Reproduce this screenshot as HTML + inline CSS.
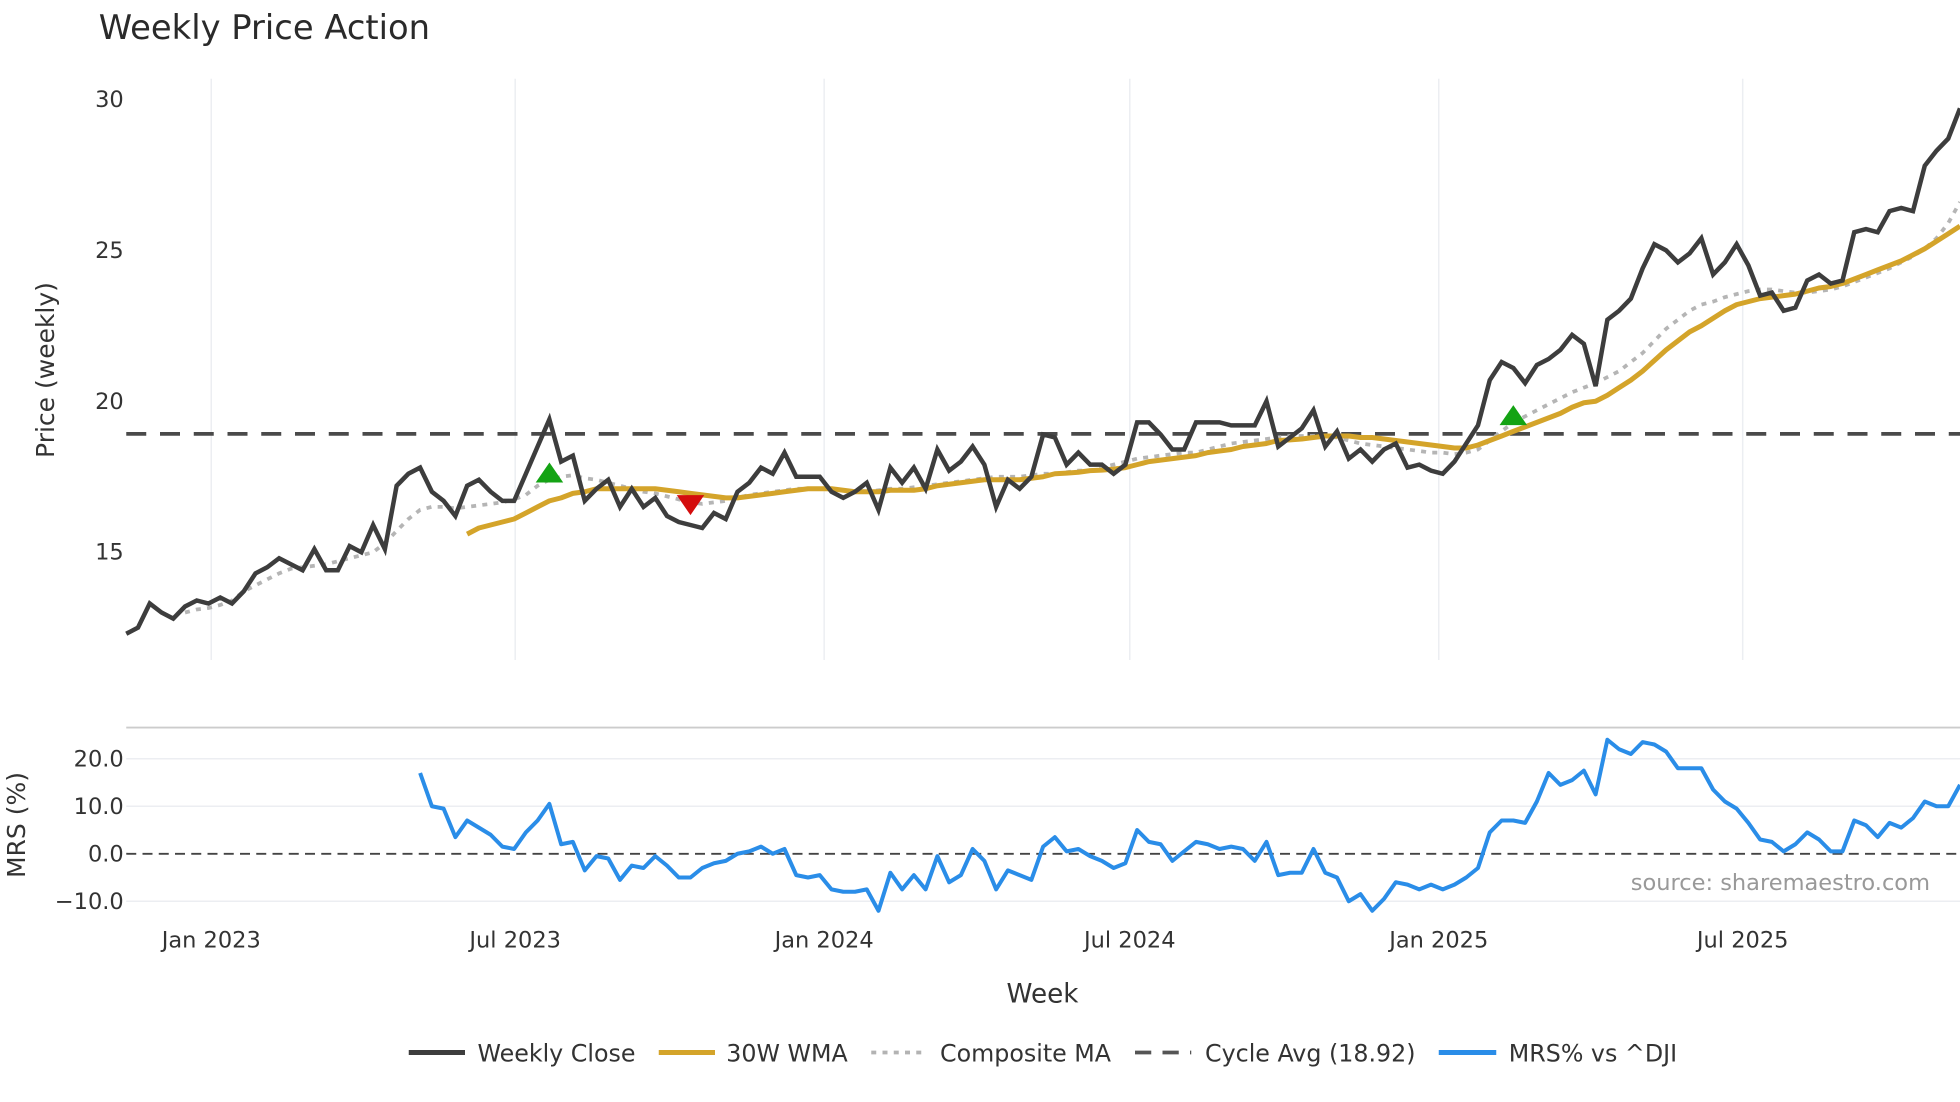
<!DOCTYPE html>
<html><head><meta charset="utf-8"><style>
html,body{margin:0;padding:0;background:#fff;}
svg{display:block;font-family:"DejaVu Sans","Liberation Sans",sans-serif;}
</style></head><body>
<svg id="chart" width="1960" height="1102" viewBox="0 0 1568 881.6" xmlns="http://www.w3.org/2000/svg">
<text x="79" y="31" font-size="27" fill="#2a2a2a">Weekly Price Action</text>
<g id="grid"></g><g id="series"></g><g id="axes"></g>
<text transform="translate(43,296) rotate(-90)" text-anchor="middle" font-size="20" fill="#333">Price (weekly)</text>
<text transform="translate(20,660) rotate(-90)" text-anchor="middle" font-size="20" fill="#333">MRS (%)</text>
<text x="834" y="802" text-anchor="middle" font-size="21" fill="#333">Week</text>
<text x="1544" y="712" text-anchor="end" font-size="18" fill="#999">source: sharemaestro.com</text>
<g font-size="19" fill="#333">
<g><line x1="327" y1="842" x2="372" y2="842" stroke="#3d3d3d" stroke-width="4"/><text x="382" y="849">Weekly Close</text></g>
<g><line x1="527" y1="842" x2="572" y2="842" stroke="#d4a42a" stroke-width="4"/><text x="581" y="849">30W WMA</text></g>
<g><line x1="697" y1="842" x2="742" y2="842" stroke="#b3b3b3" stroke-width="3" stroke-dasharray="4 5"/><text x="752" y="849">Composite MA</text></g>
<g><line x1="908" y1="842" x2="953" y2="842" stroke="#555" stroke-width="3" stroke-dasharray="13 9"/><text x="964" y="849">Cycle Avg (18.92)</text></g>
<g><line x1="1151" y1="842" x2="1197" y2="842" stroke="#2a8de8" stroke-width="4"/><text x="1207" y="849">MRS% vs ^DJI</text></g>
</g>
</svg>
<script>
const close = [12.3,12.5,13.3,13.0,12.8,13.2,13.4,13.3,13.5,13.3,13.7,14.3,14.5,14.8,14.6,14.4,15.1,14.4,14.4,15.2,15.0,15.9,15.1,17.2,17.6,17.8,17.0,16.7,16.2,17.2,17.4,17.0,16.7,16.7,17.6,18.5,19.4,18.0,18.2,16.7,17.1,17.4,16.5,17.1,16.5,16.8,16.2,16.0,15.9,15.8,16.3,16.1,17.0,17.3,17.8,17.6,18.3,17.5,17.5,17.5,17.0,16.8,17.0,17.3,16.4,17.8,17.3,17.8,17.1,18.4,17.7,18.0,18.5,17.9,16.5,17.4,17.1,17.5,18.9,18.8,17.9,18.3,17.9,17.9,17.6,17.9,19.3,19.3,18.9,18.4,18.4,19.3,19.3,19.3,19.2,19.2,19.2,20.0,18.5,18.8,19.1,19.7,18.5,19.0,18.1,18.4,18.0,18.4,18.6,17.8,17.9,17.7,17.6,18.0,18.6,19.2,20.7,21.3,21.1,20.6,21.2,21.4,21.7,22.2,21.9,20.5,22.7,23.0,23.4,24.4,25.2,25.0,24.6,24.9,25.4,24.2,24.6,25.2,24.5,23.5,23.6,23.0,23.1,24.0,24.2,23.9,24.0,25.6,25.7,25.6,26.3,26.4,26.3,27.8,28.3,28.7,29.7];
const wmaStart = 29;
const wma = [15.6,15.8,15.9,16.0,16.1,16.3,16.5,16.7,16.8,16.95,17.0,17.1,17.1,17.1,17.1,17.1,17.1,17.05,17.0,16.95,16.9,16.85,16.8,16.8,16.85,16.9,16.95,17.0,17.05,17.1,17.1,17.1,17.05,17.0,17.0,17.0,17.05,17.05,17.05,17.1,17.2,17.25,17.3,17.35,17.4,17.4,17.4,17.4,17.45,17.5,17.6,17.62,17.65,17.7,17.72,17.75,17.8,17.9,18.0,18.05,18.1,18.15,18.2,18.3,18.35,18.4,18.5,18.55,18.6,18.7,18.72,18.75,18.8,18.85,18.85,18.85,18.8,18.8,18.75,18.7,18.65,18.6,18.55,18.5,18.45,18.45,18.55,18.7,18.85,19.0,19.15,19.3,19.45,19.6,19.8,19.95,20.0,20.2,20.45,20.7,21.0,21.35,21.7,22.0,22.3,22.5,22.75,23.0,23.2,23.3,23.4,23.45,23.5,23.55,23.65,23.75,23.8,23.9,24.05,24.2,24.35,24.5,24.65,24.85,25.05,25.3,25.55,25.8];
const compStart = 5;
const comp = [13.0,13.1,13.15,13.25,13.4,13.7,13.9,14.1,14.3,14.45,14.5,14.55,14.6,14.7,14.8,14.9,15.0,15.3,15.7,16.1,16.4,16.5,16.5,16.45,16.5,16.55,16.6,16.65,16.75,16.9,17.2,17.4,17.5,17.55,17.45,17.4,17.3,17.2,17.1,17.0,16.95,16.85,16.75,16.65,16.6,16.65,16.7,16.8,16.9,16.95,17.0,17.05,17.1,17.1,17.1,17.1,17.05,17.0,17.0,17.05,17.1,17.1,17.15,17.2,17.25,17.3,17.35,17.4,17.45,17.5,17.5,17.5,17.55,17.6,17.6,17.65,17.7,17.7,17.8,17.9,18.0,18.1,18.15,18.2,18.25,18.3,18.3,18.4,18.5,18.6,18.65,18.7,18.75,18.8,18.85,18.85,18.85,18.85,18.8,18.7,18.6,18.55,18.5,18.45,18.4,18.35,18.3,18.3,18.25,18.3,18.4,18.7,19.0,19.3,19.5,19.7,19.9,20.1,20.3,20.45,20.6,20.8,21.0,21.3,21.6,22.0,22.4,22.7,23.0,23.2,23.3,23.45,23.55,23.65,23.7,23.7,23.65,23.6,23.6,23.65,23.7,23.8,23.95,24.1,24.25,24.4,24.6,24.8,25.05,25.4,25.9,26.6];
const mrsStart = 25;
const mrs = [17,10,9.5,3.5,7,5.5,4,1.5,1,4.5,7,10.5,2,2.5,-3.5,-0.5,-1,-5.5,-2.5,-3,-0.5,-2.5,-5,-5,-3,-2,-1.5,0,0.5,1.5,0,1,-4.5,-5,-4.5,-7.5,-8,-8,-7.5,-12,-4,-7.5,-4.5,-7.5,-0.5,-6,-4.5,1,-1.5,-7.5,-3.5,-4.5,-5.5,1.5,3.5,0.5,1,-0.5,-1.5,-3,-2,5,2.5,2,-1.5,0.5,2.5,2,1,1.5,1,-1.5,2.5,-4.5,-4,-4,1,-4,-5,-10,-8.5,-12,-9.5,-6,-6.5,-7.5,-6.5,-7.5,-6.5,-5,-3,4.5,7,7,6.5,11,17,14.5,15.5,17.5,12.5,24,22,21,23.5,23,21.5,18,18,18,13.5,11,9.5,6.5,3,2.5,0.5,2,4.5,3,0.5,0.5,7,6,3.5,6.5,5.5,7.5,11,10,10,14.5];
const cycleAvg = 18.92;
const buyIdx = [36,118];
const buyPrice = [17.6,19.5];
const sellIdx = [48];
const sellPrice = [16.6];
const priceTicks = [15,20,25,30];
const mrsTicks = [20,10,0,-10];
const mrsTickLabels = ["20.0","10.0","0.0","−10.0"];
const dateTicks = ["2023-01-01","2023-07-01","2024-01-01","2024-07-01","2025-01-01","2025-07-01"];
const dateTickLabels = ["Jan 2023","Jul 2023","Jan 2024","Jul 2024","Jan 2025","Jul 2025"];

const NS="http://www.w3.org/2000/svg";
const X0=101,X1=1568,N=close.length;
const xi=i=>X0+(X1-X0)*i/(N-1);
const yp=v=>321-(v-20)*24.15;
const ym=v=>683-v*3.8;
const d0=Date.UTC(2023,0,1), pxDay=(1151-169)/731;
const xd=s=>{const p=s.split('-');return 169+(Date.UTC(+p[0],+p[1]-1,+p[2])-d0)/86400000*pxDay;};
function mk(tag,attrs,parent){const e=document.createElementNS(NS,tag);for(const k in attrs)e.setAttribute(k,attrs[k]);document.getElementById(parent).appendChild(e);return e;}
function pathOf(arr,start,yf){return arr.map((v,j)=>(j?'L':'M')+xi(start+j).toFixed(1)+','+yf(v).toFixed(1)).join('');}

dateTicks.forEach((t,k)=>{
  const x=xd(t);
  const g=mk('line',{x1:x,x2:x,y1:63,y2:528,stroke:'#eceef2','stroke-width':1.2},'grid');
  
  
  const tx=mk('text',{x:x,y:758,'text-anchor':'middle','font-size':18,fill:'#333'},'axes');
  tx.textContent=dateTickLabels[k];
  
  
});
priceTicks.forEach(v=>{
  const tx=mk('text',{x:99,y:yp(v)+6,'text-anchor':'end','font-size':18,fill:'#333'},'axes');
  tx.textContent=v;
  
  
});
const topLine=mk('line',{x1:X0,x2:X1,y1:582,y2:582,stroke:'#ccc','stroke-width':1.5},'grid');


mrsTicks.forEach((v,k)=>{
  const gl=mk('line',{x1:X0,x2:X1,y1:ym(v),y2:ym(v),stroke:v===0?'#444':'#eceef2','stroke-width':v===0?1.5:1.2,'stroke-dasharray':v===0?'8 5':'none'},'grid');
  
  
  const tx=mk('text',{x:99,y:ym(v)+6,'text-anchor':'end','font-size':18,fill:'#333'},'axes');
  tx.textContent=mrsTickLabels[k];
  
  
});
const cyc=mk('line',{x1:X0,x2:X1,y1:yp(cycleAvg),y2:yp(cycleAvg),stroke:'#4a4a4a','stroke-width':3,'stroke-dasharray':'16 11'},'series');


const pc=mk('path',{d:pathOf(comp,compStart,yp),fill:'none',stroke:'#b5b5b5','stroke-width':3,'stroke-dasharray':'4 5'},'series');


const pw=mk('path',{d:pathOf(wma,wmaStart,yp),fill:'none',stroke:'#d4a42a','stroke-width':4,'stroke-linejoin':'round'},'series');


const pcl=mk('path',{d:pathOf(close,0,yp),fill:'none',stroke:'#3d3d3d','stroke-width':3.6,'stroke-linejoin':'miter'},'series');


buyIdx.forEach((i,k)=>{
  const x=xi(i),y=yp(buyPrice[k]);
  const t=mk('polygon',{points:`${x-11},${y+7} ${x+11},${y+7} ${x},${y-9}`,fill:'#14a314'},'series');
  
  
});
sellIdx.forEach((i,k)=>{
  const x=xi(i),y=yp(sellPrice[k]);
  const t=mk('polygon',{points:`${x-11},${y-7} ${x+11},${y-7} ${x},${y+9}`,fill:'#d40d0d'},'series');
  
  
});
const pm=mk('path',{d:pathOf(mrs,mrsStart,ym),fill:'none',stroke:'#2a8de8','stroke-width':3.2,'stroke-linejoin':'round'},'series');


</script>
</body></html>
